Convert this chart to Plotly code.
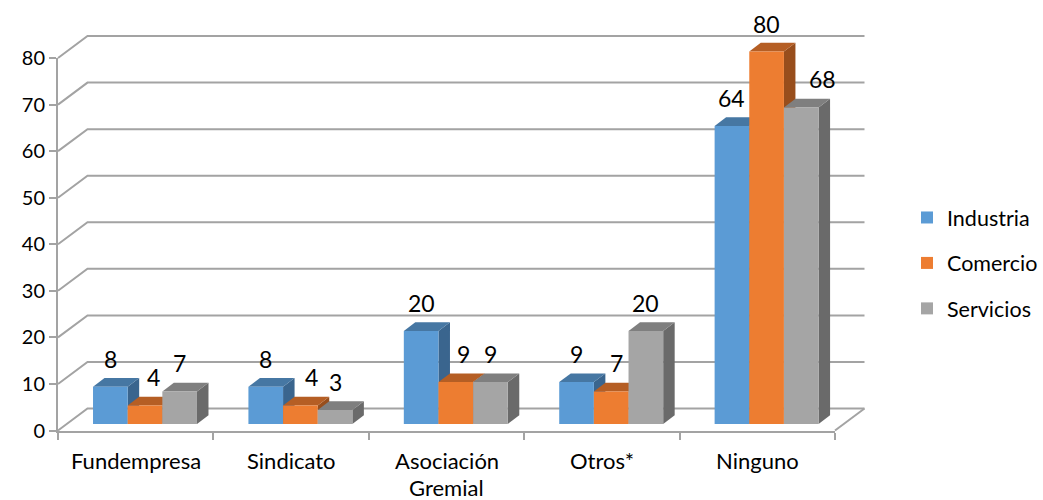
import plotly.graph_objects as go

W, H = 1043, 500

categories = ["Fundempresa", "Sindicato", "Asociación<br>Gremial", "Otros*", "Ninguno"]
series_names = ["Industria", "Comercio", "Servicios"]
industria = [8, 8, 20, 9, 64]
comercio = [4, 4, 9, 7, 80]
servicios = [7, 3, 9, 20, 68]
y_ticks = [0, 10, 20, 30, 40, 50, 60, 70, 80]

# colours per series: front, top, side
front_colors = ["#5B9BD5", "#ED7D31", "#A5A5A5"]
top_colors = ["#4677A3", "#B55E24", "#7F7F7F"]
side_colors = ["#3A658E", "#984E1C", "#6A6A6A"]
grid_color = "#A3A3A3"
font = "Lato, Carlito, Calibri, sans-serif"

# excel nudged some of the labels sideways, px
label_shift = [[0, 0, 0, 0, 0], [8, 11, 8, 5, 0], [0, 0, 0, 0, 21]]

# scale of the picture
cat_px = 155.4
val_px = 4.656
front_left, front_right = 58, 835
front_zero, front_top = 430.5, 58

# bars stand a bit behind the front edge of the floor
bar_dx = 9.3 / cat_px
bar_dy = 6.5 / val_px
wall_dx = 29.5 / cat_px
wall_dy = 22 / val_px
depth_dx = 11.5 / cat_px
depth_dy = 8.7 / val_px

bargap = 0.331
bar_w = (1 - bargap) / 3

all_values = [industria, comercio, servicios]
positions = list(range(len(categories)))


def path(points):
    return "M " + " L ".join(f"{x:.4f},{y:.4f}" for x, y in points) + " Z"


def line_path(points):
    return "M " + " L ".join(f"{x:.4f},{y:.4f}" for x, y in points)


shapes = []
x_wall_start = -0.5 - bar_dx
x_wall_end = 4.5 - bar_dx

# wall gridlines with their slanted bit down to the y axis
for v in y_ticks:
    y0 = v - bar_dy
    shapes.append(dict(type="path", xref="x2", yref="y2", layer="below",
                       path=line_path([(x_wall_start, y0),
                                       (x_wall_start + wall_dx, y0 + wall_dy),
                                       (x_wall_end + wall_dx, y0 + wall_dy)]),
                       line=dict(color=grid_color, width=2)))
# right edge of the floor
shapes.append(dict(type="path", xref="x2", yref="y2", layer="below",
                   path=line_path([(x_wall_end, -bar_dy),
                                   (x_wall_end + wall_dx, wall_dy - bar_dy)]),
                   line=dict(color=grid_color, width=2)))

# side and top faces of the columns
for i in positions:
    for s, vals in enumerate(all_values):
        v = vals[i]
        x0 = i - 3 * bar_w / 2 + s * bar_w
        x1 = x0 + bar_w
        shapes.append(dict(type="path", xref="x2", yref="y2", layer="below",
                           path=path([(x1, 0), (x1 + depth_dx, depth_dy),
                                      (x1 + depth_dx, v + depth_dy), (x1, v)]),
                           fillcolor=side_colors[s], line=dict(width=0)))
        shapes.append(dict(type="path", xref="x2", yref="y2", layer="below",
                           path=path([(x0, v), (x1, v),
                                      (x1 + depth_dx, v + depth_dy),
                                      (x0 + depth_dx, v + depth_dy)]),
                           fillcolor=top_colors[s], line=dict(width=0)))

fig = go.Figure()

# empty trace, only so the front axis has its categories
fig.add_trace(go.Scatter(x=categories, y=[None] * 5, xaxis="x", yaxis="y",
                         showlegend=False, hoverinfo="skip"))

for s, vals in enumerate(all_values):
    fig.add_trace(go.Bar(x=positions, y=vals, name=series_names[s], xaxis="x2", yaxis="y2",
                         marker=dict(color=front_colors[s], line=dict(width=0)),
                         legendgroup=series_names[s]))

annotations = []
for s, vals in enumerate(all_values):
    for i in positions:
        annotations.append(dict(x=i - bar_w + s * bar_w, y=vals[i], xref="x2", yref="y2",
                                text=str(vals[i]), showarrow=False, yanchor="middle",
                                xshift=label_shift[s][i], yshift=28,
                                font=dict(family=font, size=23, color="#000000")))

# category labels by hand, excel leaves more room between the two lines
for i, cat in enumerate(categories):
    for n, part in enumerate(cat.split("<br>")):
        annotations.append(dict(x=i, y=0, xref="x", yref="y", text=part, showarrow=False,
                                yanchor="middle", yshift=-30 - 26.5 * n,
                                font=dict(family=font, size=22, color="#000000")))

# plot box of the bar plane, px
box_l, box_r, box_b, box_t = 40, 900, 440, 0
x0_px = front_left + cat_px / 2 + bar_dx * cat_px
y0_px = front_zero - bar_dy * val_px

fig.update_layout(
    template="none",
    width=W, height=H, margin=dict(l=0, r=0, t=0, b=0), autosize=False,
    paper_bgcolor="white", plot_bgcolor="rgba(0,0,0,0)",
    barmode="group", bargap=bargap, bargroupgap=0,
    shapes=shapes, annotations=annotations,
    font=dict(family=font, size=20, color="#000000"),
    # anchored right so the legend never pushes the plot margin
    legend=dict(x=1, y=0.606, xanchor="right", yanchor="top", tracegroupgap=14.5,
                bgcolor="rgba(0,0,0,0)", font=dict(size=21.5)),
    xaxis=dict(domain=[front_left / W, front_right / W], type="category",
               categoryorder="array", categoryarray=categories,
               range=[-0.5, 4.5], tickson="boundaries", ticks="outside", ticklen=7,
               tickcolor=grid_color, tickwidth=1.5, showline=True, linecolor=grid_color,
               linewidth=2, showgrid=False, zeroline=False, anchor="y", showticklabels=False),
    yaxis=dict(domain=[1 - front_zero / H, 1 - front_top / H], range=[0, 80],
               tickvals=y_ticks, ticks="outside", ticklen=7, tickcolor=grid_color,
               tickwidth=1.5, showline=True, linecolor=grid_color, linewidth=2,
               showgrid=False, zeroline=False, anchor="x"),
    xaxis2=dict(domain=[box_l / W, box_r / W], visible=False, anchor="y2",
                range=[(box_l - x0_px) / cat_px, (box_r - x0_px) / cat_px]),
    yaxis2=dict(domain=[1 - box_b / H, 1 - box_t / H], visible=False, anchor="x2",
                range=[(y0_px - box_b) / val_px, (y0_px - box_t) / val_px]),
)

# page margin would push the chart 8px off
fig.write_html("out.html", config={"displayModeBar": False},
               post_script="document.body.style.margin='0';")
